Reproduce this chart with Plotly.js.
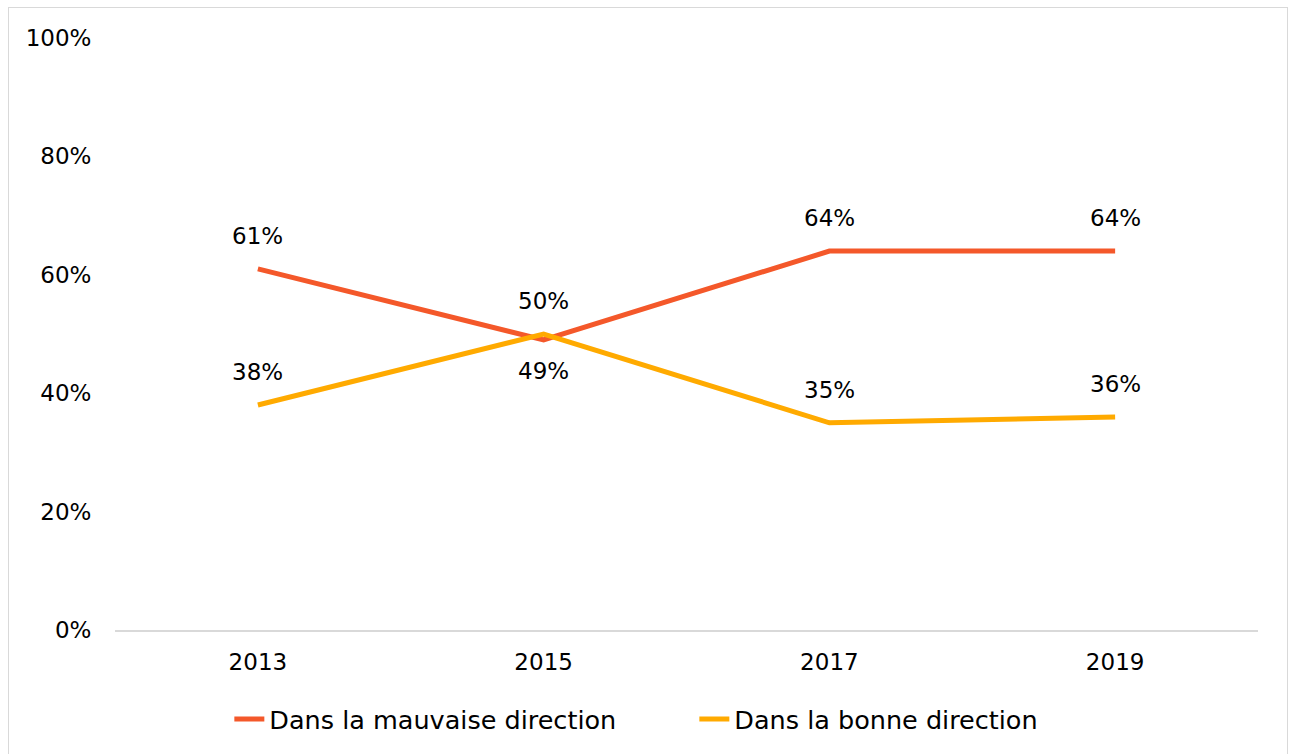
<!DOCTYPE html>
<html>
<head>
<meta charset="utf-8">
<script src="https://cdn.plot.ly/plotly-3.0.1.min.js"></script>
<style>
html,body{margin:0;padding:0;background:#fff;}
#chart{position:absolute;left:0;top:0;width:1293px;height:754px;}
#frame{position:absolute;left:8px;top:7px;width:1278px;height:760px;border:1px solid #d9d9d9;pointer-events:none;}
</style>
</head>
<body>
<div id="chart"></div>
<div id="frame"></div>
<script>
const years = ['2013', '2015', '2017', '2019'];
const mauvaise = [61, 49, 64, 64];
const bonne = [38, 50, 35, 36];
const mauvaiseLabelPos = ['top', 'bottom', 'top', 'top'];
const bonneLabelPos = ['top', 'top', 'top', 'top'];
const yTicks = [0, 20, 40, 60, 80, 100];

const RED = '#F4582A';
const ORANGE = '#FFAA00';
const FONT = 'DejaVu Sans, sans-serif';
const FS = 23;

const traces = [
  {x: years, y: mauvaise, name: 'Dans la mauvaise direction', type: 'scatter', mode: 'lines',
   line: {color: RED, width: 5}},
  {x: years, y: bonne, name: 'Dans la bonne direction', type: 'scatter', mode: 'lines',
   line: {color: ORANGE, width: 5}}
];

const annotations = [];
function addLabels(vals, pos) {
  vals.forEach((v, i) => {
    annotations.push({x: i, y: v, xref: 'x', yref: 'y', text: v + '%', showarrow: false,
      yshift: pos[i] === 'top' ? 33 : -31, font: {family: FONT, size: FS, color: '#000'}});
  });
}
addLabels(mauvaise, mauvaiseLabelPos);
addLabels(bonne, bonneLabelPos);

const layout = {
  width: 1293, height: 754,
  margin: {l: 115, r: 35, t: 38, b: 124},
  paper_bgcolor: '#fff', plot_bgcolor: '#fff',
  font: {family: FONT, size: FS, color: '#000'},
  showlegend: true,
  legend: {orientation: 'h', xref: 'container', x: 0.537, xanchor: 'center', yref: 'container', y: 0.046, yanchor: 'middle',
    font: {family: FONT, size: 25.5, color: '#000'}, traceorder: 'normal', entrywidth: 420},
  xaxis: {type: 'category', range: [-0.5, 3.5], showgrid: false, zeroline: false,
    showline: true, linecolor: '#d9d9d9', linewidth: 2,
    ticks: 'outside', ticklen: 10, tickcolor: 'rgba(0,0,0,0)'},
  yaxis: {range: [0, 100], tickvals: yTicks, ticktext: yTicks.map(v => v + '%'),
    showgrid: false, zeroline: false, showline: false,
    ticks: 'outside', ticklen: 18, tickcolor: 'rgba(0,0,0,0)'},
  annotations: annotations
};

Plotly.newPlot('chart', traces, layout, {displayModeBar: false, staticPlot: true});
</script>
</body>
</html>
